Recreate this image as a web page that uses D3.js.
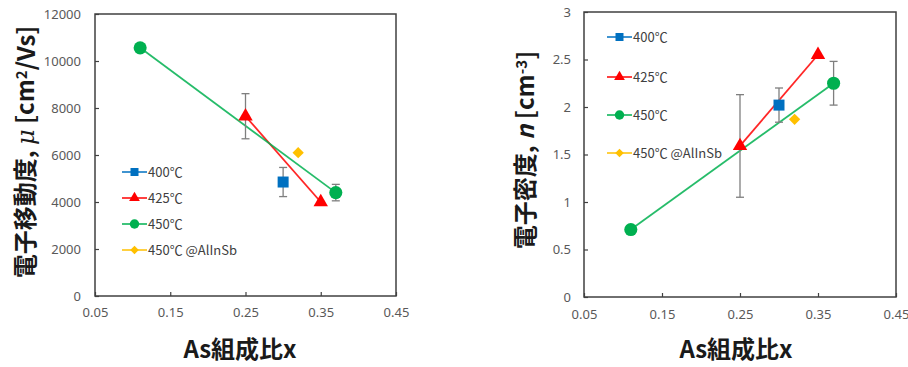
<!DOCTYPE html>
<html>
<head>
<meta charset="utf-8">
<script src="https://cdn.jsdelivr.net/npm/d3@7"></script>
<style>
  body { margin: 0; background: #fff; }
  svg { display: block; font-family: "Noto Sans CJK JP", "Noto Sans", sans-serif; }
</style>
</head>
<body>
<div id="chart"></div>
<script>
// As composition for each growth temperature
const seriesNames = ["400℃", "425℃", "450℃", "450℃ @AlInSb"];
const x400 = [0.30];
const x425 = [0.25, 0.35];
const x450 = [0.11, 0.37];
const xAlInSb = [0.32];

// mobility [cm2/Vs]
const mu400 = [4850];
const mu400Err = [620];
const mu425 = [7650, 4000];
const mu425Err = [960, 0];
const mu450 = [10560, 4400];
const mu450Err = [0, 350];
const muAlInSb = [6100];

// electron density [cm-3]
const n400 = [2.02];
const n400Err = [0.18];
const n425 = [1.59, 2.55];
const n425Err = [0.54, 0];
const n450 = [0.71, 2.25];
const n450Err = [0, 0.23];
const nAlInSb = [1.87];

const xTicks = [0.05, 0.15, 0.25, 0.35, 0.45];
const muTicks = [0, 2000, 4000, 6000, 8000, 10000, 12000];
const nTicks = [0, 0.5, 1, 1.5, 2, 2.5, 3];

const colors = ["#0070C0", "#FF0000", "#00B050", "#FFC000"];
const shapes = ["square", "triangle", "circle", "diamond"];

const width = 908, height = 367;

const svg = d3.select("#chart")
  .append("svg")
  .attr("width", width)
  .attr("height", height);

function zip(xs, ys, es) {
  return xs.map((x, i) => ({ x: x, y: ys[i], e: es ? es[i] : 0 }));
}

function marker(sel, shape, big) {
  let s;
  if (shape === "square") s = d3.symbol(d3.symbolSquare, big ? 121 : 64);
  else if (shape === "triangle") s = d3.symbol(d3.symbolTriangle, big ? 90 : 50);
  else if (shape === "circle") s = d3.symbol(d3.symbolCircle, big ? 135 : 70);
  else s = d3.symbol(d3.symbolSquare, big ? 64 : 36);
  sel.attr("d", s);
  if (shape === "diamond") sel.attr("transform", function () {
    return d3.select(this).attr("transform") + " rotate(45)";
  });
}

function panel(opt) {
  const g = svg.append("g");
  const x = d3.scaleLinear().domain([0.05, 0.45]).range([opt.left, opt.right]);
  const y = d3.scaleLinear().domain([0, opt.yMax]).range([opt.bottom, opt.top]);

  g.append("rect")
    .attr("x", opt.left).attr("y", opt.top)
    .attr("width", opt.right - opt.left)
    .attr("height", opt.bottom - opt.top)
    .attr("fill", "none")
    .attr("stroke", "#404040")
    .attr("stroke-width", 1.5);

  const xAxis = g.append("g")
    .attr("transform", `translate(0, ${opt.bottom})`)
    .call(d3.axisBottom(x).tickValues(xTicks).tickFormat(d3.format(".2f"))
      .tickSize(-4).tickSizeOuter(0).tickPadding(opt.xPad));
  const yAxis = g.append("g")
    .attr("transform", `translate(${opt.left}, 0)`)
    .call(d3.axisLeft(y).tickValues(opt.yTicks).tickFormat(opt.yFormat)
      .tickSize(-4).tickSizeOuter(0).tickPadding(opt.yPad));

  [xAxis, yAxis].forEach(a => {
    a.select(".domain").remove();
    a.selectAll("line").attr("stroke", "#404040").attr("stroke-width", 1.2);
    a.selectAll("text").attr("fill", "#595959").attr("font-size", 13)
      .attr("font-family", "'Noto Sans', sans-serif");
  });

  const line = d3.line().x(d => x(d.x)).y(d => y(d.y));

  opt.series.forEach((s, i) => {
    if (s.length > 1) {
      g.append("path")
        .datum(s)
        .attr("d", line)
        .attr("fill", "none")
        .attr("stroke", colors[i])
        .attr("stroke-width", 1.8)
        .attr("stroke-opacity", 0.85);
    }
  });

  // error bars
  opt.series.forEach((s, i) => {
    s.filter(d => d.e > 0).forEach(d => {
      const eb = g.append("g").attr("stroke", "#7F7F7F").attr("stroke-width", 1.3);
      eb.append("line").attr("x1", x(d.x)).attr("x2", x(d.x))
        .attr("y1", y(d.y - d.e)).attr("y2", y(d.y + d.e));
      [d.y - d.e, d.y + d.e].forEach(v => {
        eb.append("line").attr("x1", x(d.x) - 4).attr("x2", x(d.x) + 4)
          .attr("y1", y(v)).attr("y2", y(v));
      });
    });
  });

  opt.series.forEach((s, i) => {
    g.selectAll(null)
      .data(s)
      .join("path")
      .attr("transform", d => `translate(${x(d.x)},${y(d.y)})`)
      .attr("fill", colors[i])
      .call(marker, shapes[i], true);
  });

  // legend
  seriesNames.forEach((name, i) => {
    const ly = opt.legendY[i];
    const lg = g.append("g").attr("transform", `translate(${opt.legendX}, ${ly})`);
    lg.append("line").attr("x1", 0).attr("x2", 25).attr("y1", 0).attr("y2", 0)
      .attr("stroke", colors[i]).attr("stroke-width", 1.5);
    lg.append("path").attr("transform", "translate(12.5,0)")
      .attr("fill", colors[i]).call(marker, shapes[i], false);
    lg.append("text").attr("x", 26).attr("y", 0).attr("dy", "0.35em")
      .attr("font-size", 13).attr("fill", "#404040").text(name);
  });

  // x title
  g.append("text")
    .attr("x", opt.xTitleX).attr("y", 350)
    .attr("dy", "0.35em")
    .attr("text-anchor", "middle")
    .attr("font-size", 24).attr("font-weight", "bold")
    .attr("fill", "#1a1a1a")
    .text("As組成比x");

  // y title
  const yt = g.append("text")
    .attr("transform", `translate(${opt.yTitleX}, ${opt.yTitleY}) rotate(-90)`)
    .attr("dy", "0.35em")
    .attr("text-anchor", "middle")
    .attr("font-size", 24).attr("font-weight", "bold")
    .attr("fill", "#1a1a1a");
  opt.yTitle(yt);
}

panel({
  left: 95, right: 396, top: 14, bottom: 296,
  yMax: 12000, yTicks: muTicks, yFormat: d3.format("d"),
  xPad: 12, yPad: 14,
  series: [zip(x400, mu400, mu400Err), zip(x425, mu425, mu425Err),
           zip(x450, mu450, mu450Err), zip(xAlInSb, muAlInSb)],
  legendX: 122, legendY: [172, 198, 224, 250],
  xTitleX: 240, yTitleX: 26, yTitleY: 152,
  yTitle: t => {
    t.append("tspan").text("電子移動度, ");
    t.append("tspan").attr("font-style", "italic").attr("font-weight", "normal")
      .attr("font-family", "'DejaVu Serif', serif").text("μ");
    t.append("tspan").text(" [cm");
    t.append("tspan").attr("font-size", 15).attr("dy", "-0.5em").text("2");
    t.append("tspan").attr("dy", "0.35em").text("/Vs]");
  }
});

panel({
  left: 584, right: 896, top: 12, bottom: 297,
  yMax: 3, yTicks: nTicks, yFormat: d3.format(""),
  xPad: 13, yPad: 13,
  series: [zip(x400, n400, n400Err), zip(x425, n425, n425Err),
           zip(x450, n450, n450Err), zip(xAlInSb, nAlInSb)],
  legendX: 607, legendY: [37, 77, 115, 153],
  xTitleX: 736, yTitleX: 526, yTitleY: 150,
  yTitle: t => {
    t.append("tspan").text("電子密度, ");
    t.append("tspan").attr("font-style", "italic").text("n");
    t.append("tspan").text(" [cm");
    t.append("tspan").attr("font-size", 15).attr("dy", "-0.5em").text("-3");
    t.append("tspan").attr("dy", "0.35em").text("]");
  }
});
</script>
</body>
</html>
